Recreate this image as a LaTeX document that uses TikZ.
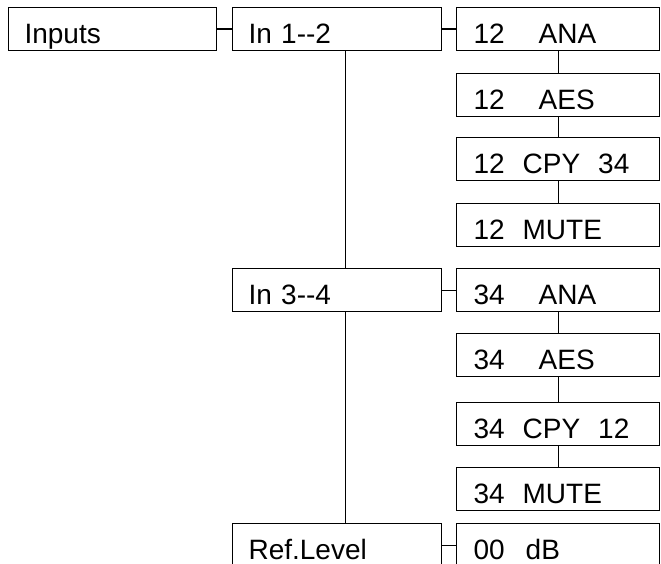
\documentclass[tikz,border=0pt]{standalone}
\usepackage{fontspec}
\setmainfont{Liberation Sans}

\begin{document}
\begin{tikzpicture}[x=1pt, y=-1pt, line width=1.1pt,
  item/.style={draw, rectangle, anchor=north west, minimum height=43pt,
    inner sep=0pt, text height=28.6pt, text depth=0pt, align=left,
    font=\fontsize{28}{32}\selectfont},
  leftbox/.style={item, minimum width=208pt, text width=176pt, inner xsep=16pt},
  midbox/.style={item, minimum width=209pt, text width=177pt, inner xsep=16pt},
  rightbox/.style={item, minimum width=203pt, text width=169pt, inner xsep=17pt}]

  \useasboundingbox (0,0) rectangle (661,564);
  \clip (0,0) rectangle (661,564);

  % first and second column
  \node[leftbox] (inputs) at (8,7) {Inputs};
  \node[midbox] (in12) at (232,7) {In 1-{}-2};
  \node[midbox] (in34) at (232,268) {In 3-{}-4};
  \node[midbox] (ref) at (232,523) {Ref.Level};

  % third column: In 1--2
  \node[rightbox] (ana12) at (456,7) {12\hspace{34pt}ANA};
  \node[rightbox] (aes12) at (456,73) {12\hspace{34pt}AES};
  \node[rightbox] (cpy12) at (456,137) {12\hspace{18pt}CPY\hspace{18pt}34};
  \node[rightbox] (mute12) at (456,203) {12\hspace{18pt}MUTE};

  % third column: In 3--4
  \node[rightbox] (ana34) at (456,268) {34\hspace{34pt}ANA};
  \node[rightbox] (aes34) at (456,333) {34\hspace{34pt}AES};
  \node[rightbox] (cpy34) at (456,402) {34\hspace{18pt}CPY\hspace{18pt}12};
  \node[rightbox] (mute34) at (456,467) {34\hspace{18pt}MUTE};

  % third column: Ref.Level
  \node[rightbox] (db) at (456,523) {00\hspace{21pt}dB};

  % horizontal links
  \draw (inputs.east) -- (in12.west);
  \draw (in12.east) -- (ana12.west);
  \draw (in34.east) -- (ana34.west);
  \draw (ref.east) -- (db.west);

  % main vertical line
  \draw ([xshift=8.5pt]in12.south) -- ([xshift=8.5pt]in34.north);
  \draw ([xshift=8.5pt]in34.south) -- ([xshift=8.5pt]ref.north);

  % option chains
  \draw (ana12) -- (aes12);
  \draw (aes12) -- (cpy12);
  \draw (cpy12) -- (mute12);
  \draw (ana34) -- (aes34);
  \draw (aes34) -- (cpy34);
  \draw (cpy34) -- (mute34);

\end{tikzpicture}
\end{document}
